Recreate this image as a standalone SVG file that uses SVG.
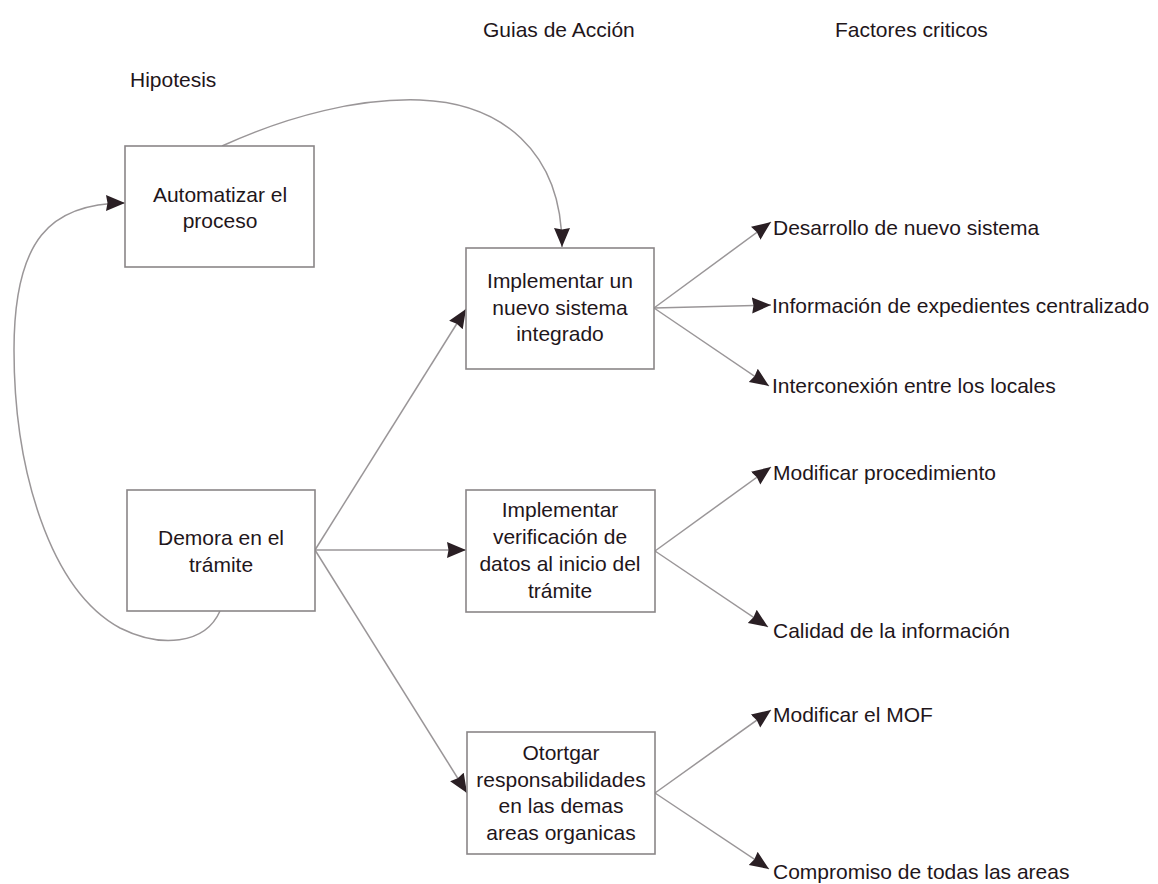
<svg xmlns="http://www.w3.org/2000/svg" width="1158" height="884" viewBox="0 0 1158 884">
  <style>
    text { font-family: "Liberation Sans", Arial, sans-serif; font-size: 21px; fill: #1f161b; }
    .c { text-anchor: middle; }
    .box { fill: #ffffff; stroke: #8a8688; stroke-width: 1.6; }
    .link { fill: none; stroke: #9a9698; stroke-width: 1.5; marker-end: url(#head); }
  </style>
  <defs>
    <marker id="head" markerUnits="userSpaceOnUse" markerWidth="22" markerHeight="18" refX="19" refY="8" orient="auto">
      <path d="M0,0 L19,8 L0,16 L1.5,8 Z" fill="#2a1f24"/>
    </marker>
  </defs>
  <rect width="1158" height="884" fill="#ffffff"/>

  <!-- column headings -->
  <g id="headings">
    <text x="483" y="37">Guias de Acción</text>
    <text x="835" y="37">Factores criticos</text>
    <text x="130" y="87">Hipotesis</text>
  </g>

  <!-- connectors -->
  <g id="connectors">
    <path class="link" d="M222,146 C290,115 360,98 420,100 C500,103 562,150 562,247"/>
    <path class="link" d="M220,611 C205,645 160,648 120,628 C50,590 14,470 14,350 C14,240 50,203 125,203"/>
    <path class="link" d="M315,550 L466,309"/>
    <path class="link" d="M315,550 L466,550"/>
    <path class="link" d="M315,550 L467,793"/>
    <path class="link" d="M654,308 L771,222"/>
    <path class="link" d="M654,308 L771,305"/>
    <path class="link" d="M654,308 L769,386"/>
    <path class="link" d="M655,551 L771,467"/>
    <path class="link" d="M655,551 L768,627"/>
    <path class="link" d="M655,793 L771,710"/>
    <path class="link" d="M655,793 L769,869"/>
  </g>

  <!-- hypothesis nodes -->
  <g id="automatizar">
    <rect class="box" x="125" y="146" width="189" height="121"/>
    <text class="c" x="220" y="202">Automatizar el</text>
    <text class="c" x="220" y="228">proceso</text>
  </g>
  <g id="demora">
    <rect class="box" x="127" y="490" width="188" height="121"/>
    <text class="c" x="221" y="545">Demora en el</text>
    <text class="c" x="221" y="572">trámite</text>
  </g>

  <!-- action guide nodes -->
  <g id="sistema">
    <rect class="box" x="466" y="248" width="188" height="121"/>
    <text class="c" x="560" y="288">Implementar un</text>
    <text class="c" x="560" y="315">nuevo sistema</text>
    <text class="c" x="560" y="341">integrado</text>
  </g>
  <g id="verificacion">
    <rect class="box" x="466" y="490" width="189" height="122"/>
    <text class="c" x="560" y="517">Implementar</text>
    <text class="c" x="560" y="544">verificación de</text>
    <text class="c" x="560" y="571">datos al inicio del</text>
    <text class="c" x="560" y="598">trámite</text>
  </g>
  <g id="responsabilidades">
    <rect class="box" x="467" y="732" width="188" height="122"/>
    <text class="c" x="561" y="760">Otortgar</text>
    <text class="c" x="561" y="787">responsabilidades</text>
    <text class="c" x="561" y="813">en las demas</text>
    <text class="c" x="561" y="840">areas organicas</text>
  </g>

  <!-- critical factor labels -->
  <g id="factor-desarrollo"><text x="773" y="235">Desarrollo de nuevo sistema</text></g>
  <g id="factor-informacion"><text x="772" y="313">Información de expedientes centralizado</text></g>
  <g id="factor-interconexion"><text x="772" y="393">Interconexión entre los locales</text></g>
  <g id="factor-procedimiento"><text x="773" y="480">Modificar procedimiento</text></g>
  <g id="factor-calidad"><text x="773" y="638">Calidad de la información</text></g>
  <g id="factor-mof"><text x="773" y="722">Modificar el MOF</text></g>
  <g id="factor-compromiso"><text x="773" y="879">Compromiso de todas las areas</text></g>
</svg>
